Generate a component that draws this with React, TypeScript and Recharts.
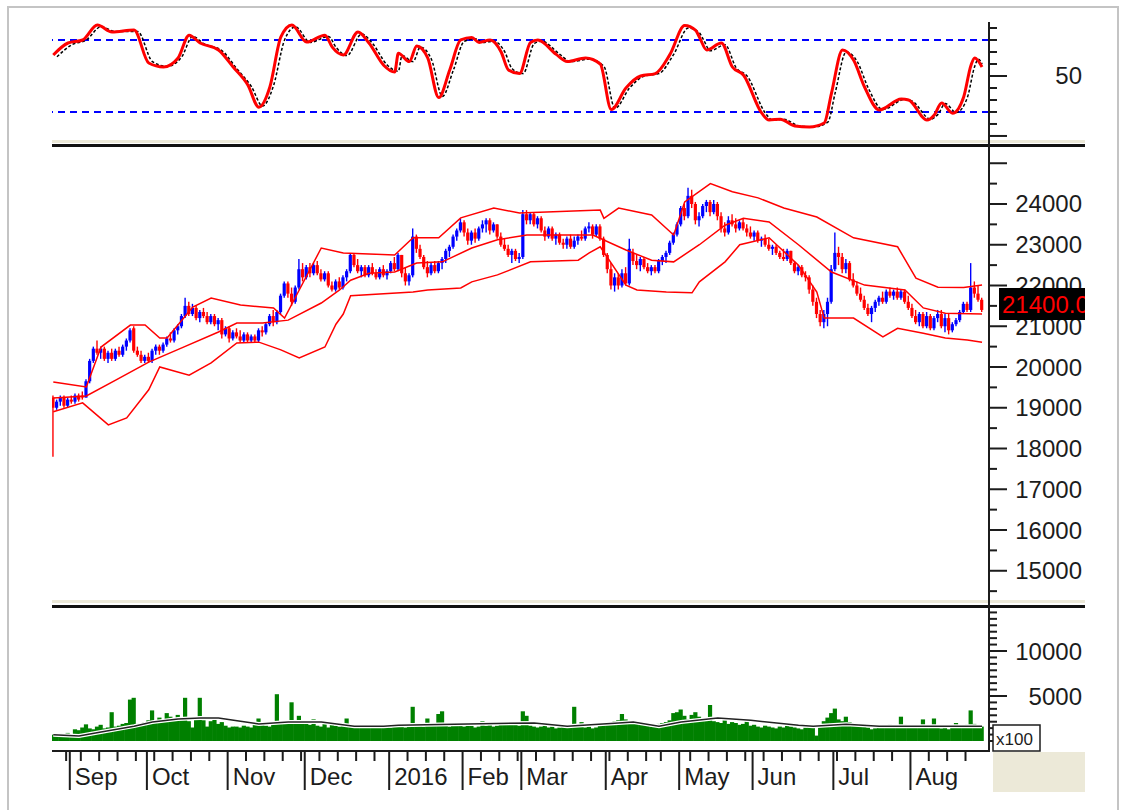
import { Bar, ComposedChart, Line, ReferenceLine, XAxis, YAxis } from "recharts";

// daily bars, 25 Aug 2015 .. 26 Aug 2016 (index 0..253)
const opens = [
  19250, 19000, 19150, 19250, 19050, 19200, 19150, 19300, 19300, 19250,
  19650, 20150, 20450, 20350, 20450, 20200, 20350, 20200, 20400, 20300,
  20500, 20650, 20950, 20400, 20300, 20150, 20250, 20150, 20400, 20500,
  20400, 20550, 20700, 20650, 20900, 21000, 21250, 21500, 21300, 21450,
  21200, 21350, 21250, 21100, 21250, 21050, 21150, 20800, 20950, 20700,
  20850, 20750, 20650, 20800, 20650, 20750, 20650, 20900, 20850, 21050,
  21250, 21100, 21350, 21750, 22050, 21800, 21600, 21950, 22400, 22200,
  22450, 22300, 22500, 22300, 22150, 22300, 22000, 21900, 22100, 21950,
  22200, 22350, 22750, 22500, 22350, 22450, 22250, 22450, 22300, 22200,
  22400, 22250, 22350, 22550, 22400, 22750, 22300, 22100, 22250, 23200,
  22900, 22700, 22450, 22300, 22500, 22350, 22550, 22650, 22850, 22950,
  23200, 23350, 23550, 23300, 23100, 23300, 23150, 23400, 23500, 23600,
  23350, 23500, 23200, 23000, 22900, 22750, 22850, 22650, 22700, 23750,
  23600, 23750, 23500, 23650, 23350, 23200, 23400, 23150, 23250, 23050,
  23000, 23150, 22950, 23100, 23200, 23150, 23400, 23450, 23250, 23450,
  23150, 22750, 22400, 22000, 22200, 22000, 22300, 22050, 22800, 22600,
  22500, 22650, 22450, 22350, 22450, 22350, 22600, 22700, 22800, 23050,
  23250, 23500, 23900, 23700, 24200, 24000, 23600, 23700, 23950, 24050,
  23800, 24000, 23700, 23400, 23300, 23600, 23500, 23400, 23550, 23400,
  23300, 23200, 23300, 23100, 23150, 23000, 22900, 22950, 22800, 22700,
  22650, 22850, 22550, 22350, 22450, 22250, 22200, 21900, 21600, 21300,
  21100, 21300, 21600, 22400, 22800, 22700, 22400, 22550, 22150, 22000,
  21800, 21650, 21450, 21300, 21450, 21600, 21700, 21600, 21850, 21750,
  21850, 21700, 21850, 21600, 21450, 21250, 21100, 21300, 21000, 21250,
  20950, 21200, 21300, 21000, 21200, 20900, 21050, 21150, 21350, 21550,
  21400, 21950, 21800, 21650,
];
const highs = [
  19300, 19200, 19300, 19300, 19250, 19300, 19350, 19350, 19400, 19700,
  20200, 20500, 20650, 20500, 20500, 20400, 20450, 20450, 20500, 20550,
  20700, 20950, 21000, 20500, 20400, 20300, 20350, 20450, 20550, 20550,
  20600, 20750, 20850, 20950, 21050, 21300, 21700, 21600, 21550, 21500,
  21400, 21450, 21350, 21300, 21300, 21200, 21200, 21000, 21000, 20900,
  20950, 20900, 20850, 20850, 20800, 20800, 20950, 21000, 21100, 21300,
  21400, 21400, 21800, 22100, 22100, 21950, 22000, 22650, 22550, 22500,
  22550, 22550, 22600, 22400, 22350, 22350, 22100, 22150, 22200, 22250,
  22400, 22800, 22800, 22650, 22500, 22500, 22500, 22550, 22400, 22450,
  22500, 22400, 22600, 22700, 22800, 22750, 22450, 22300, 23400, 23250,
  23000, 22750, 22600, 22550, 22600, 22600, 22700, 22900, 23000, 23250,
  23400, 23650, 23600, 23400, 23350, 23400, 23450, 23600, 23650, 23650,
  23550, 23500, 23300, 23150, 23000, 22900, 22900, 22800, 23850, 23850,
  23800, 23800, 23700, 23700, 23450, 23450, 23450, 23300, 23300, 23150,
  23200, 23250, 23200, 23250, 23350, 23450, 23550, 23500, 23500, 23500,
  23200, 22800, 22550, 22300, 22300, 22400, 22450, 23150, 22900, 22750,
  22700, 22700, 22550, 22500, 22500, 22650, 22750, 22850, 23100, 23300,
  23550, 23950, 24000, 24400, 24350, 24050, 23800, 24000, 24100, 24100,
  24100, 24050, 23800, 23550, 23700, 23750, 23650, 23600, 23650, 23500,
  23450, 23350, 23350, 23200, 23250, 23150, 23000, 23000, 22850, 22900,
  22900, 22850, 22600, 22500, 22500, 22350, 22250, 22000, 21700, 21400,
  21400, 21700, 22500, 23300, 22950, 22800, 22650, 22600, 22300, 22100,
  21950, 21750, 21550, 21500, 21650, 21750, 21850, 21900, 21950, 21900,
  21950, 21900, 21900, 21750, 21550, 21400, 21350, 21350, 21350, 21300,
  21250, 21400, 21400, 21300, 21300, 21100, 21200, 21400, 21600, 21600,
  22550, 22100, 22000, 21700,
];
const lows = [
  17800, 18950, 19050, 19000, 19000, 19100, 19100, 19150, 19200, 19250,
  19600, 20100, 20300, 20200, 20150, 20100, 20150, 20150, 20250, 20250,
  20400, 20600, 20350, 20250, 20100, 20100, 20100, 20100, 20300, 20300,
  20350, 20500, 20600, 20600, 20800, 20950, 21200, 21250, 21250, 21150,
  21100, 21200, 21050, 21050, 21000, 20900, 20700, 20750, 20600, 20650,
  20700, 20600, 20600, 20600, 20600, 20600, 20600, 20750, 20800, 21000,
  21000, 21050, 21300, 21700, 21700, 21500, 21550, 21900, 22100, 22150,
  22200, 22250, 22250, 22100, 22100, 21950, 21850, 21850, 21900, 21900,
  22100, 22300, 22450, 22300, 22200, 22200, 22200, 22250, 22150, 22150,
  22200, 22150, 22300, 22350, 22350, 22200, 22000, 22000, 22200, 22800,
  22650, 22400, 22200, 22250, 22300, 22300, 22400, 22550, 22700, 22900,
  23100, 23300, 23200, 23000, 23000, 23050, 23100, 23300, 23300, 23250,
  23300, 23150, 22950, 22850, 22700, 22550, 22600, 22550, 22650, 23500,
  23500, 23450, 23400, 23300, 23100, 23150, 23100, 23000, 23000, 22900,
  22900, 22900, 22900, 23000, 23100, 23100, 23300, 23150, 23200, 23100,
  22700, 22300, 21900, 21850, 21900, 21950, 22000, 22000, 22500, 22400,
  22350, 22400, 22300, 22250, 22300, 22300, 22500, 22550, 22750, 23000,
  23200, 23450, 23600, 23650, 23900, 23500, 23450, 23650, 23800, 23700,
  23750, 23600, 23300, 23200, 23250, 23450, 23300, 23350, 23350, 23200,
  23150, 23100, 23050, 22950, 22950, 22850, 22750, 22750, 22650, 22600,
  22600, 22500, 22300, 22250, 22200, 22100, 21800, 21500, 21200, 21000,
  20950, 21000, 21550, 22350, 22500, 22300, 22300, 22100, 21950, 21750,
  21600, 21400, 21250, 21100, 21350, 21500, 21550, 21550, 21700, 21650,
  21650, 21650, 21550, 21400, 21200, 21050, 21000, 20950, 20950, 20900,
  20900, 21100, 20950, 20850, 20800, 20850, 21000, 21100, 21300, 21350,
  21350, 21700, 21600, 21350,
];
const closes = [
  19000, 19150, 19250, 19050, 19200, 19150, 19300, 19200, 19250, 19650,
  20150, 20450, 20350, 20450, 20200, 20350, 20200, 20400, 20300, 20500,
  20650, 20900, 20400, 20300, 20150, 20250, 20150, 20400, 20500, 20400,
  20550, 20700, 20650, 20900, 21000, 21250, 21500, 21300, 21450, 21200,
  21350, 21250, 21100, 21250, 21050, 21150, 20800, 20950, 20700, 20850,
  20750, 20650, 20800, 20650, 20750, 20650, 20900, 20850, 21050, 21250,
  21100, 21350, 21750, 22050, 21800, 21600, 21950, 22400, 22200, 22450,
  22300, 22500, 22300, 22150, 22300, 22000, 21900, 22100, 21950, 22200,
  22350, 22750, 22500, 22350, 22450, 22250, 22450, 22300, 22200, 22400,
  22250, 22350, 22550, 22400, 22750, 22300, 22100, 22250, 23200, 22900,
  22700, 22450, 22300, 22500, 22350, 22550, 22650, 22850, 22950, 23200,
  23350, 23550, 23300, 23100, 23300, 23150, 23400, 23500, 23600, 23350,
  23500, 23200, 23000, 22900, 22750, 22850, 22650, 22700, 23750, 23600,
  23750, 23500, 23650, 23350, 23200, 23400, 23150, 23250, 23050, 23000,
  23150, 22950, 23100, 23200, 23150, 23400, 23450, 23250, 23450, 23150,
  22750, 22400, 22000, 22200, 22000, 22300, 22050, 22900, 22600, 22500,
  22650, 22450, 22350, 22450, 22350, 22600, 22700, 22800, 23050, 23250,
  23500, 23900, 23700, 24200, 24000, 23600, 23700, 23950, 24050, 23800,
  24000, 23700, 23400, 23300, 23600, 23500, 23400, 23550, 23400, 23300,
  23200, 23300, 23100, 23150, 23000, 22900, 22950, 22800, 22700, 22650,
  22850, 22550, 22350, 22450, 22250, 22200, 21900, 21600, 21300, 21100,
  21300, 21600, 22400, 22800, 22700, 22400, 22550, 22150, 22000, 21800,
  21650, 21450, 21300, 21450, 21600, 21700, 21600, 21850, 21750, 21850,
  21700, 21850, 21600, 21450, 21250, 21100, 21300, 21000, 21250, 20950,
  21200, 21300, 21000, 21200, 20900, 21050, 21150, 21350, 21550, 21400,
  21950, 21800, 21650, 21400,
];
// volume, in hundreds of shares (axis is marked x100)
const volumes = [
  700, 650, 800, 600, 900, 750, 1300, 1200, 1500, 1850,
  1400, 1300, 1600, 1800, 1400, 1500, 3200, 1600, 1700, 1900,
  2000, 4600, 4800, 1900, 1800, 2100, 2300, 3400, 2200, 2600,
  2400, 3100, 2700, 2300, 2900, 2500, 4800, 2200, 1500, 2400,
  4800, 2300, 1600, 2200, 2400, 1900, 2100, 1700, 1500, 1600,
  1600, 1500, 1700, 1600, 1500, 1900, 2500, 1800, 1700, 1600,
  1900, 5200, 2000, 1900, 2100, 4300, 2300, 2800, 2000, 2100,
  1800, 2400, 1700, 1600, 2000, 1500, 1900, 1700, 1600, 1800,
  2500, 1700, 1600, 1500, 1700, 1600, 1500, 1600, 1700, 1500,
  1600, 1700, 1500, 1800, 1600, 1700, 1500, 1600, 3800, 1900,
  1700, 1600, 2500, 1800, 1700, 3000, 3300, 1800, 1600, 1900,
  1700, 1800, 1600, 2000, 1700, 1500, 1600, 2200, 1700, 1800,
  1600, 1700, 2000, 2100, 1900, 2100, 1800, 1700, 3300, 2800,
  1700, 1600, 1500, 1600, 1700, 1500, 1600, 1400, 1500, 1600,
  1500, 1700, 3800, 1600, 2100, 1500, 1600, 1400, 1500, 1700,
  1900, 2100, 2000, 2200, 2300, 3000, 2400, 2200, 2100, 2000,
  1900, 1800, 1700, 1600, 1700, 1900, 2000, 2100, 2300, 3100,
  3200, 3500, 2800, 2400, 2900, 3200, 2700, 2300, 2400, 4000,
  2200, 2100, 2000, 2300, 1900, 2100, 2000, 1800, 1900, 2300,
  1700, 1800, 1600, 1500, 1700, 1600, 1500, 1400, 1600, 1500,
  1700, 1600, 1500, 1400, 1300, 1500, 1600, 1700, 600, 1800,
  2200, 2600, 3100, 3600, 2400, 2200, 2700, 2100, 1900, 1800,
  1700, 1600, 1500, 1300, 1400, 1600, 1700, 1500, 1800, 1600,
  1700, 2700, 1800, 1600, 1500, 1600, 1700, 2400, 1600, 1500,
  2500, 1600, 1400, 1500, 1300, 1600, 2000, 1700, 1500, 1800,
  3400, 1900, 1700, 1600,
];

// indicator lines as [bar index, value]
const upperBand = [
  [0, 19630], [9, 19510], [13, 20490], [21, 21030], [25, 21030], [29, 20710], [31, 20710],
  [38, 21470], [43, 21690], [51, 21520], [60, 21450], [63, 21200], [67, 21890], [73, 22920],
  [79, 22800], [93, 22750], [98, 23170], [105, 23170], [111, 23660], [120, 23900], [127, 23780],
  [149, 23850], [150, 23650], [154, 23900], [163, 23730], [169, 23240], [172, 24050], [179, 24500],
  [185, 24300], [192, 24150], [199, 23900], [208, 23680], [218, 23170], [230, 22950], [235, 22180],
  [241, 21960], [248, 21950], [253, 22010],
];
const middleBand = [
  [0, 19240], [9, 19290], [17, 19680], [26, 20120], [35, 20470], [45, 20860], [50, 21080],
  [57, 21080], [64, 21150], [73, 21570], [78, 21890], [81, 22130], [86, 22300], [93, 22330],
  [99, 22550], [106, 22580], [114, 22920], [121, 23120], [129, 23240], [147, 23240], [156, 22870],
  [163, 22620], [169, 22580], [176, 23000], [183, 23480], [188, 23650], [195, 23560], [203, 23000],
  [212, 22330], [221, 22010], [232, 21890], [237, 21450], [243, 21320], [253, 21300],
];
const lowerBand = [
  [0, 18900], [8, 19120], [15, 18580], [20, 18750], [26, 19440], [29, 20000], [37, 19800],
  [43, 20100], [50, 20590], [56, 20610], [62, 20420], [67, 20220], [74, 20490], [77, 21050],
  [79, 21300], [81, 21750], [98, 21840], [102, 21890], [111, 21940], [114, 22090], [121, 22260],
  [130, 22580], [143, 22620], [146, 22800], [149, 22950], [156, 22010], [159, 21890], [167, 21840],
  [174, 21820], [176, 22090], [183, 22580], [187, 23000], [195, 23170], [203, 22500], [208, 21840],
  [210, 21200], [218, 21200], [226, 20740], [230, 20950], [237, 20830], [243, 20710], [249, 20660],
  [253, 20610],
];
const rsiPoints = [
  [0, 67.5], [4, 77.5], [8, 80], [12, 92.5], [16, 86.7], [22, 88.3], [26, 60.8], [30, 57.5],
  [34, 65], [37, 84], [40, 77.5], [45, 71.7], [49, 57.5], [53, 42.5], [56, 24], [59, 40.8],
  [62, 82.5], [65, 92.5], [69, 78.3], [74, 84], [76, 74], [79, 67.5], [83, 86.7], [86, 77.5],
  [90, 59], [93, 53.3], [94, 69], [97, 62], [99, 75], [102, 65], [105, 32], [108, 55], [111, 80],
  [114, 82], [116, 78], [119, 80], [122, 70], [124, 55], [127, 52], [130, 78], [132, 80], [137, 68],
  [140, 62], [145, 65], [149, 60], [152, 22], [156, 40], [160, 50], [164, 52], [168, 68], [172, 92],
  [175, 88], [176, 82.5], [178, 71.7], [182, 77.5], [185, 57.5], [188, 50.8], [193, 19], [195, 13.3],
  [198, 14], [202, 8.3], [206, 7.5], [210, 10.8], [212, 35.8], [215, 71.7], [218, 63.3], [221, 40.8],
  [225, 21.7], [231, 30.8], [233, 30], [238, 13.3], [240, 17.5], [242, 27.5], [245, 19], [248, 32.5],
  [250, 59], [251, 65], [253, 57.5],
];
const signalPoints = [
  [1, 66], [5, 76], [9, 80], [13, 91], [17, 87], [23, 87], [27, 62], [31, 58], [35, 66], [38, 83],
  [41, 77], [46, 71], [50, 56], [54, 41], [57, 25], [60, 42], [63, 80], [66, 91], [70, 78], [75, 83],
  [77, 74], [80, 67], [84, 85], [87, 77], [91, 59], [94, 54], [95, 67], [98, 62], [100, 74], [103, 64],
  [106, 33], [109, 55], [112, 79], [115, 81], [117, 78], [120, 79], [123, 70], [125, 56], [128, 52],
  [131, 77], [133, 79], [138, 68], [141, 62], [146, 64], [150, 58], [153, 23], [157, 40], [161, 50],
  [165, 52], [169, 68], [173, 90], [176, 86], [177, 81], [179, 71], [183, 76], [186, 57], [189, 50],
  [194, 19], [196, 13], [199, 14], [203, 8.5], [207, 7.5], [211, 11.5], [213, 36], [216, 70], [219, 62],
  [222, 40], [226, 22], [232, 30.5], [234, 29], [239, 14], [241, 18], [243, 27], [246, 19.5], [249, 32],
  [251, 58], [252, 64], [253, 60],
];
const volumeAverage = [
  [0, 700], [7, 550], [13, 1000], [22, 1650], [27, 2100], [34, 2450], [40, 2550], [45, 2550],
  [51, 2200], [56, 1900], [64, 2100], [73, 2100], [82, 1650], [90, 1650], [94, 1750], [113, 1900],
  [131, 2000], [140, 1650], [154, 2000], [158, 2100], [165, 1650], [171, 2100], [181, 2550],
  [190, 2300], [203, 1750], [207, 1650], [216, 1850], [225, 1650], [234, 1650], [243, 1650],
  [253, 1650],
];

const monthTicks = [4.5, 25.5, 47.5, 68.5, 91.5, 111.5, 127.5, 150.5, 170.5, 190.5, 212.5, 233.5];
const monthLabels = ["Sep", "Oct", "Nov", "Dec", "2016", "Feb", "Mar", "Apr", "May", "Jun", "Jul", "Aug"];
const weekTicks = [
  3.5, 7.5, 12.5, 17.5, 22.5, 27.5, 32.5, 37.5, 42.5, 52.5, 57.5, 62.5, 67.5, 72.5, 77.5, 82.5,
  87.5, 96.5, 101.5, 106.5, 116.5, 121.5, 126.5, 131.5, 136.5, 141.5, 146.5, 151.5, 156.5, 161.5,
  165.5, 173.5, 178.5, 183.5, 188.5, 193.5, 198.5, 203.5, 208.5, 213.5, 218.5, 223.5, 228.5,
  238.5, 243.5, 248.5,
];
const rsiTicks = [0, 10, 20, 30, 40, 50, 60, 70, 80, 90];
const rsiMajor = [0, 50];
const rsiLabels = [50];
const rsiLevels = [80, 20];
const priceTicks = [
  14500, 15000, 15500, 16000, 16500, 17000, 17500, 18000, 18500, 19000, 19500, 20000, 20500,
  21000, 21500, 22000, 22500, 23000, 23500, 24000, 24500, 25000,
];
const priceLabels = [15000, 16000, 17000, 18000, 19000, 20000, 21000, 22000, 23000, 24000];
const volumeTicks = [
  0, 714, 1429, 2143, 2857, 3571, 4286, 5000, 5714, 6429, 7143, 7857, 8571, 9286, 10000, 10714,
  11429, 12143, 12857, 13571, 14286,
];
const volumeMajor = [0, 5000, 10000];
const volumeLabels = [5000, 10000];
const lastPrice = "21400.00";

const INK = "#1c1c1c";
const FONT = "'Liberation Sans', Arial, sans-serif";
const AXIS_X = 989;
const LABEL_X = 1082;
const xDomain = [-0.35, 254.9];
const chartMargin = { top: 0, right: 40, bottom: 0, left: 52 };

function merge(rows: any[], key: string, points: number[][]) {
  points.forEach(([i, v]) => {
    rows[i][key] = v;
  });
}

const priceRows: any[] = closes.map((c, i) => ({
  i,
  open: opens[i],
  high: highs[i],
  low: lows[i],
  close: c,
  range: [lows[i], highs[i]],
}));
merge(priceRows, "upper", upperBand);
merge(priceRows, "middle", middleBand);
merge(priceRows, "lower", lowerBand);

const rsiRows: any[] = closes.map((_, i) => ({ i }));
merge(rsiRows, "rsi", rsiPoints);
merge(rsiRows, "signal", signalPoints);

const volumeRows: any[] = volumes.map((v, i) => ({ i, vol: v }));
merge(volumeRows, "avg", volumeAverage);

function axisTick(y: number, long: boolean, label?: string) {
  return (
    <g>
      <line x1={AXIS_X} x2={AXIS_X + (long ? 18 : 8)} y1={y} y2={y} stroke={INK} strokeWidth={2} />
      {label && (
        <text x={LABEL_X} y={y + 8.5} textAnchor="end" fontSize={24} fill={INK} fontFamily={FONT}>
          {label}
        </text>
      )}
    </g>
  );
}

function RsiTick(props: any) {
  const v = props.payload.value;
  return axisTick(props.y, rsiMajor.includes(v), rsiLabels.includes(v) ? String(v) : undefined);
}

function PriceTick(props: any) {
  const v = props.payload.value;
  return axisTick(props.y, v % 1000 === 0, priceLabels.includes(v) ? String(v) : undefined);
}

function VolumeTick(props: any) {
  const v = props.payload.value;
  return axisTick(props.y, volumeMajor.includes(v), volumeLabels.includes(v) ? String(v) : undefined);
}

function DateTick(props: any) {
  const { x, y } = props;
  const m = monthTicks.indexOf(props.payload.value);
  if (m < 0) {
    return <line x1={x} x2={x} y1={y} y2={y + 10} stroke={INK} strokeWidth={2} />;
  }
  return (
    <g>
      <line x1={x} x2={x} y1={y} y2={y + 39} stroke={INK} strokeWidth={2} />
      <text x={x + 5} y={y + 34} fontSize={24} fill={INK} fontFamily={FONT}>
        {monthLabels[m]}
      </text>
    </g>
  );
}

function Candle(props: any) {
  const { x, y, width, height, payload } = props;
  const top = Math.min(y, y + height);
  const h = Math.abs(height);
  const { open, close, high, low } = payload;
  const color = close >= open ? "#0000ff" : "#ff0000";
  const perUnit = h / (high - low || 1);
  const yOpen = top + (high - open) * perUnit;
  const yClose = top + (high - close) * perUnit;
  const cx = x + width / 2;
  const bodyTop = Math.min(yOpen, yClose);
  const bodyH = Math.max(Math.abs(yOpen - yClose), 1.5);
  return (
    <g>
      <line x1={cx} x2={cx} y1={top} y2={top + h} stroke={color} strokeWidth={1.4} />
      <rect x={cx - 1.6} y={bodyTop} width={3.2} height={bodyH} fill={color} />
    </g>
  );
}

function VolumeBar(props: any) {
  const { x, y, width, height } = props;
  const top = Math.min(y, y + height);
  const cx = x + width / 2;
  return <rect x={cx - 2.1} y={top} width={4.2} height={Math.abs(height)} fill="#008000" />;
}

export default function App() {
  return (
    <div style={{ position: "absolute", left: 0, top: 0, width: 1125, height: 810, background: "#fff", overflow: "hidden" }}>
      <div style={{ position: "absolute", left: 0, top: 0 }}>
        <ComposedChart width={1125} height={150} data={rsiRows} margin={{ ...chartMargin, top: 22, bottom: 9 }}>
          <XAxis dataKey="i" type="number" domain={xDomain} allowDataOverflow hide />
          <YAxis
            orientation="right"
            width={96}
            domain={[-4.2, 95]}
            allowDataOverflow
            ticks={rsiTicks}
            interval={0}
            axisLine={false}
            tickLine={false}
            tick={(p: any) => <RsiTick {...p} />}
          />
          {rsiLevels.map((level) => (
            <ReferenceLine key={level} y={level} stroke="#0000ff" strokeWidth={2} strokeDasharray="7 5" />
          ))}
          <Line type="monotone" dataKey="signal" stroke="#000" strokeWidth={1.5} strokeDasharray="3 2" dot={false} activeDot={false} connectNulls isAnimationActive={false} />
          <Line type="monotone" dataKey="rsi" stroke="#ff0000" strokeWidth={3} dot={false} activeDot={false} connectNulls isAnimationActive={false} />
        </ComposedChart>
      </div>

      <div style={{ position: "absolute", left: 0, top: 148 }}>
        <ComposedChart width={1125} height={455} data={priceRows} margin={chartMargin}>
          <XAxis dataKey="i" type="number" domain={xDomain} allowDataOverflow hide />
          <YAxis
            orientation="right"
            width={96}
            domain={[14209, 25374]}
            allowDataOverflow
            ticks={priceTicks}
            interval={0}
            axisLine={false}
            tickLine={false}
            tick={(p: any) => <PriceTick {...p} />}
          />
          <Line dataKey="upper" stroke="#ff0000" strokeWidth={1.5} dot={false} activeDot={false} connectNulls isAnimationActive={false} />
          <Line dataKey="middle" stroke="#ff0000" strokeWidth={1.5} dot={false} activeDot={false} connectNulls isAnimationActive={false} />
          <Line dataKey="lower" stroke="#ff0000" strokeWidth={1.5} dot={false} activeDot={false} connectNulls isAnimationActive={false} />
          <Bar dataKey="range" barSize={3} shape={(p: any) => <Candle {...p} />} isAnimationActive={false} />
        </ComposedChart>
      </div>

      <div style={{ position: "absolute", left: 0, top: 608 }}>
        <ComposedChart width={1125} height={183} data={volumeRows} margin={chartMargin}>
          <XAxis
            dataKey="i"
            type="number"
            domain={xDomain}
            allowDataOverflow
            ticks={[...weekTicks, ...monthTicks]}
            interval={0}
            height={40}
            axisLine={{ stroke: INK, strokeWidth: 2 }}
            tickLine={false}
            tickSize={0}
            tickMargin={0}
            tick={(p: any) => <DateTick {...p} />}
          />
          <YAxis
            orientation="right"
            width={96}
            domain={[-1111, 14778]}
            allowDataOverflow
            ticks={volumeTicks}
            interval={0}
            axisLine={false}
            tickLine={false}
            tick={(p: any) => <VolumeTick {...p} />}
          />
          <Bar dataKey="vol" barSize={3} shape={(p: any) => <VolumeBar {...p} />} isAnimationActive={false} />
          <Line dataKey="avg" stroke="#fff" strokeWidth={4} dot={false} activeDot={false} connectNulls isAnimationActive={false} />
          <Line dataKey="avg" stroke="#222" strokeWidth={1.5} dot={false} activeDot={false} connectNulls isAnimationActive={false} />
        </ComposedChart>
      </div>

      <svg width={1125} height={810} style={{ position: "absolute", left: 0, top: 0, pointerEvents: "none" }}>
        <defs>
          <clipPath id="priceClip">
            <rect x={990} y={280} width={95} height={50} />
          </clipPath>
        </defs>
        <rect x={8} y={7} width={1110} height={830} fill="none" stroke="#c4c4c4" strokeWidth={2} />
        <rect x={52} y={140} width={1033} height={3} fill="#ece9d8" />
        <rect x={52} y={144} width={1033} height={3} fill="#111" />
        <rect x={52} y={600} width={1033} height={3} fill="#ece9d8" />
        <rect x={52} y={605} width={1033} height={3} fill="#111" />
        <line x1={AXIS_X} x2={AXIS_X} y1={22} y2={752} stroke={INK} strokeWidth={2} />
        <rect x={993} y={752} width={92} height={40} fill="#ece9d8" />
        <rect x={993} y={725} width={47} height={26} fill="#fff" stroke={INK} strokeWidth={1.5} />
        <text x={996} y={745} fontSize={17} fill={INK} fontFamily={FONT}>
          x100
        </text>
        <g clipPath="url(#priceClip)">
          <rect x={999} y={288} width={90} height={32} fill="#000" />
          <text x={1002} y={313} fontSize={24} fill="#ff0000" fontFamily={FONT}>
            {lastPrice}
          </text>
        </g>
      </svg>
    </div>
  );
}
